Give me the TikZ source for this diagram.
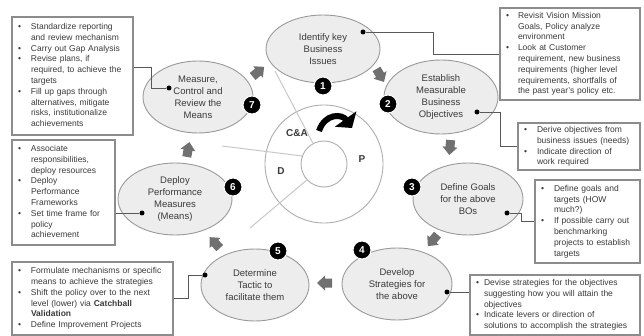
\documentclass[tikz,border=0pt]{standalone}
\usepackage{fontspec}
\setmainfont{Liberation Sans}
\usetikzlibrary{shapes.geometric,arrows.meta,calc}

\definecolor{ellfill}{HTML}{EDEDED}
\definecolor{ellline}{HTML}{9A9A9A}
\definecolor{boxline}{HTML}{8C8C8C}
\definecolor{txt}{HTML}{3A3A3A}
\definecolor{chev}{HTML}{707070}
\definecolor{spoke}{HTML}{C8C8C8}

\newcommand{\bx}{\textbullet}

\tikzset{
  stage/.style={ellipse, draw=ellline, fill=ellfill, line width=0.9, inner sep=0,
    align=center, font=\fontsize{9.5}{12}\selectfont, text=txt},
  note/.style={rectangle, draw=boxline, fill=white, line width=1.1, inner ysep=0,
    inner xsep=6, align=left, font=\fontsize{8.5}{10.8}\selectfont, text=txt},
  badge/.style={circle, fill=black, draw=white, line width=1, inner sep=0,
    minimum size=18, text=white, font=\fontsize{10}{10}\selectfont\bfseries},
  dot/.style={circle, fill=black, inner sep=0, minimum size=5},
  link/.style={draw=txt!85, line width=0.9},
  spokeline/.style={draw=spoke, line width=1},
  phase/.style={font=\fontsize{10}{10}\selectfont\bfseries, text=txt},
  wheel/.style={circle, draw=ellline!80, line width=0.9, fill=white, inner sep=0},
  flow/.pic={\fill[chev] (-7,-4.5) -- (0,-4.5) -- (0,-7.5) -- (8,0) -- (0,7.5) -- (0,4.5) -- (-7,4.5) -- cycle;}
}

\begin{document}
\begin{tikzpicture}[x=1pt,y=-1pt]
\useasboundingbox (0,0) rectangle (644,336);
\fill[white] (0,0) rectangle (644,336);

% PDCA wheel
\node[wheel, minimum size=118] (rim) at (324,164) {};
\node[wheel, minimum size=46] (hub) at (324,164) {};
\draw[spokeline] (hub.118) -- (275,71);
\draw[spokeline] (hub.160) -- (222,146);
\draw[spokeline] (hub.223) -- (250,228);
\node[phase] (ca) at (297,133) {C\&A};
\node[phase] (pp) at (362,159) {P};
\node[phase] (dd) at (281,171) {D};
\draw[line width=6, -{Triangle[length=11,width=26]}] (319,131) .. controls (325,113) and (342,114) .. (352,128);

% process stages
\node[stage, minimum width=114, minimum height=68] (s1) at (323,49) {Identify key\\Business\\Issues};
\node[stage, minimum width=114, minimum height=74] (s2) at (441,97) {Establish\\Measurable\\Business\\Objectives};
\node[stage, minimum width=110, minimum height=72] (s3) at (468,199) {Define Goals\\for the above\\BOs};
\node[stage, minimum width=110, minimum height=72] (s4) at (397,284) {Develop\\Strategies for\\the above};
\node[stage, minimum width=108, minimum height=72] (s5) at (255,285) {Determine\\Tactic to\\facilitate them};
\node[stage, minimum width=114, minimum height=72] (s6) at (175,199) {Deploy\\Performance\\Measures\\(Means)};
\node[stage, minimum width=110, minimum height=72] (s7) at (198,97) {Measure,\\Control and\\Review the\\Means};

% step numbers
\node[badge] (n1) at (323,86) {1};
\node[badge] (n2) at (388,104) {2};
\node[badge] (n3) at (412,187) {3};
\node[badge] (n4) at (362,250) {4};
\node[badge] (n5) at (278,251) {5};
\node[badge] (n6) at (233,187) {6};
\node[badge] (n7) at (252,105) {7};

% flow arrows between stages
\pic[rotate=40] at (258,72) {flow};
\pic[rotate=-60] at (380,75) {flow};
\pic[rotate=-95] at (450,147) {flow};
\pic[rotate=-130] at (433,240) {flow};
\pic[rotate=180] at (325,283) {flow};
\pic[rotate=133] at (215,243) {flow};
\pic[rotate=80] at (188,150) {flow};

% anchor dots
\node[dot] (d1) at (363,32) {};
\node[dot] (d2) at (477,112) {};
\node[dot] (d3) at (507,213) {};
\node[dot] (d4) at (447,292) {};
\node[dot] (d5) at (205,275) {};
\node[dot] (d6) at (142,213) {};
\node[dot] (d7) at (169,88) {};

% notes
\node[note, text width=109, minimum height=118] (bA) at (72.5,76) {%
\begin{tabular}{@{}p{13pt}@{}l@{}}
\bx & Standardize reporting\\
    & and review mechanism\\
\bx & Carry out Gap Analysis\\
\bx & Revise plans, if\\
    & required, to achieve the\\
    & targets\\
\bx & Fill up gaps through\\
    & alternatives, mitigate\\
    & risks, institutionalize\\
    & achievements
\end{tabular}};

\node[note, text width=128, minimum height=92] (bB) at (570,54) {%
\begin{tabular}{@{}p{12pt}@{}l@{}}
\bx & Revisit Vision Mission\\
    & Goals, Policy analyze\\
    & environment\\
\bx & Look at Customer\\
    & requirement, new business\\
    & requirements (higher level\\
    & requirements, shortfalls of\\
    & the past year's policy etc.
\end{tabular}};

\node[note, text width=110, minimum height=47] (bC) at (579,146.5) {%
\begin{tabular}{@{}p{13pt}@{}l@{}}
\bx & Derive objectives from\\
    & business issues (needs)\\
\bx & Indicate direction of\\
    & work required
\end{tabular}};

\node[note, text width=93, minimum height=83] (bD) at (587.5,221.5) {%
\begin{tabular}{@{}p{13pt}@{}l@{}}
\bx & Define goals and\\
    & targets (HOW\\
    & much?)\\
\bx & If possible carry out\\
    & benchmarking\\
    & projects to establish\\
    & targets
\end{tabular}};

\node[note, text width=158, minimum height=60] (bE) at (555,305) {%
\begin{tabular}{@{}p{8pt}@{}l@{}}
\bx & Devise strategies for the objectives\\
    & suggesting how you will attain the\\
    & objectives\\
\bx & Indicate levers or direction of\\
    & solutions to accomplish the strategies
\end{tabular}};

\node[note, text width=91, minimum height=105] (bF) at (63.5,192.5) {%
\begin{tabular}{@{}p{13pt}@{}l@{}}
\bx & Associate\\
    & responsibilities,\\
    & deploy resources\\
\bx & Deploy\\
    & Performance\\
    & Frameworks\\
\bx & Set time frame for\\
    & policy\\
    & achievement
\end{tabular}};

\node[note, text width=149, minimum height=73] (bG) at (92.5,298.5) {%
\begin{tabular}{@{}p{13pt}@{}l@{}}
\bx & Formulate mechanisms or specific\\
    & means to achieve the strategies\\
\bx & Shift the policy over to the next\\
    & level (lower) via \textbf{Catchball}\\
    & \textbf{Validation}\\
\bx & Define Improvement Projects
\end{tabular}};

% connectors from stages to notes
\coordinate (k1) at (433,32);
\coordinate (k2) at (500,112);
\coordinate (k3) at (521,213);
\coordinate (k5) at (188,275);
\coordinate (k7a) at (151,88);
\coordinate (k7b) at (151,67);
\draw[link] (d1) -- (k1) |- (bB.west);
\draw[link] (d2) -- (k2) |- (bC.west);
\draw[link] (d3) -- (k3) |- (bD.west);
\draw[link] (d4) -- (d4 -| bE.west);
\draw[link] (d5) -- (k5) |- (bG.east);
\draw[link] (d6) -- (d6 -| bF.east);
\draw[link] (d7) -- (k7a) -- (k7b) -- (k7b -| bA.east);
\end{tikzpicture}
\end{document}
